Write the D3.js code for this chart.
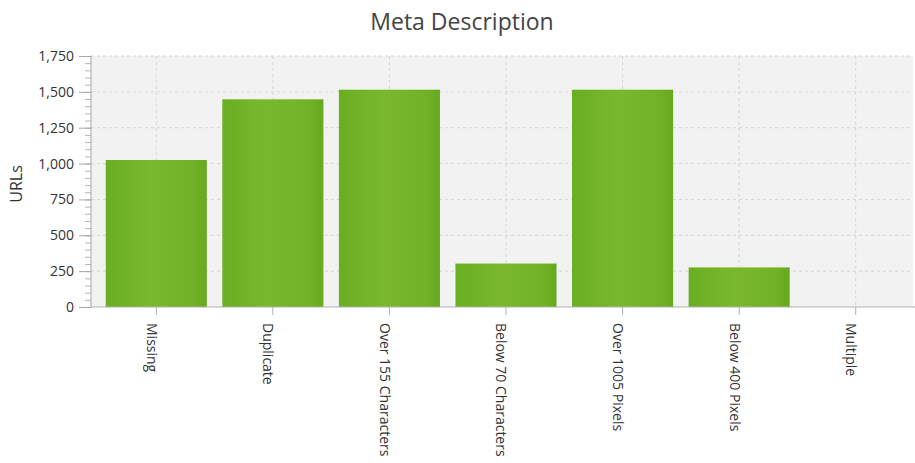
<!DOCTYPE html>
<html>
<head>
<meta charset="utf-8">
<script src="https://cdn.jsdelivr.net/npm/d3@7"></script>
<style>
  body { margin: 0; background: #fff; }
  text { font-family: "Open Sans", "Noto Sans", sans-serif; }
</style>
</head>
<body>
<div id="chart"></div>
<script>
var categories = ["Missing", "Duplicate", "Over 155 Characters", "Below 70 Characters",
                  "Over 1005 Pixels", "Below 400 Pixels", "Multiple"];
var urls = [1025, 1448, 1515, 303, 1515, 276, 0];
var yTicks = [0, 250, 500, 750, 1000, 1250, 1500, 1750];

var width = 915, height = 463;
var plotLeft = 91, plotRight = 913, plotTop = 56, plotBottom = 307;

var svg = d3.select("#chart")
    .append("svg")
    .attr("width", width)
    .attr("height", height);

var x = d3.scaleBand()
    .domain(categories)
    .range([98, 914])
    .paddingInner(0.133)
    .paddingOuter(0.0665);

var y = d3.scaleLinear()
    .domain([0, 1750])
    .range([plotBottom, plotTop]);

// bar gradient
var grad = svg.append("defs").append("linearGradient")
    .attr("id", "barGrad")
    .attr("x1", "0%").attr("x2", "100%").attr("y1", "0%").attr("y2", "0%");
grad.append("stop").attr("offset", "0%").attr("stop-color", "#6aae22");
grad.append("stop").attr("offset", "45%").attr("stop-color", "#79b82c");
grad.append("stop").attr("offset", "85%").attr("stop-color", "#72b226");
grad.append("stop").attr("offset", "100%").attr("stop-color", "#66a91e");

// plot background
svg.append("rect")
    .attr("x", plotLeft)
    .attr("y", plotTop)
    .attr("width", plotRight - plotLeft)
    .attr("height", plotBottom - plotTop)
    .attr("fill", "#f2f2f2");

// grid lines
svg.append("g").selectAll("line")
    .data(yTicks.slice(1))
    .enter().append("line")
    .attr("x1", plotLeft).attr("x2", plotRight)
    .attr("y1", function(d) { return y(d); })
    .attr("y2", function(d) { return y(d); })
    .attr("stroke", "#d6d6d6")
    .attr("stroke-dasharray", "3,3");

svg.append("g").selectAll("line")
    .data(categories)
    .enter().append("line")
    .attr("x1", function(d) { return x(d) + x.bandwidth() / 2; })
    .attr("x2", function(d) { return x(d) + x.bandwidth() / 2; })
    .attr("y1", plotTop).attr("y2", plotBottom)
    .attr("stroke", "#d6d6d6")
    .attr("stroke-dasharray", "3,3");

// bars
svg.append("g").selectAll("rect")
    .data(categories)
    .enter().append("rect")
    .attr("x", function(d) { return x(d); })
    .attr("width", x.bandwidth())
    .attr("y", function(d, i) { return y(urls[i]); })
    .attr("height", function(d, i) { return plotBottom - y(urls[i]); })
    .attr("fill", "url(#barGrad)");

// y axis with minor ticks
var yMinor = svg.append("g")
    .attr("transform", "translate(" + plotLeft + ",0)")
    .call(d3.axisLeft(y).ticks(35).tickSize(6).tickFormat(""));
yMinor.select(".domain").remove();
yMinor.selectAll("line").attr("stroke", "#b5b5b5");

var yAxis = svg.append("g")
    .attr("transform", "translate(" + plotLeft + ",0)")
    .call(d3.axisLeft(y).tickValues(yTicks).tickSize(12).tickPadding(5)
        .tickFormat(d3.format(",")));
yAxis.select(".domain").attr("stroke", "#a8a8a8").attr("d", "M0," + plotTop + "V" + plotBottom);
yAxis.selectAll("line").attr("stroke", "#a8a8a8");
yAxis.selectAll("text")
    .attr("font-size", 14)
    .attr("fill", "#333");

// x axis
var xAxis = svg.append("g")
    .attr("transform", "translate(0," + plotBottom + ")")
    .call(d3.axisBottom(x).tickSize(8).tickSizeOuter(0));
xAxis.select(".domain").attr("stroke", "#b0b0b0").attr("d", "M" + plotLeft + ",0H" + width);
xAxis.selectAll("line").attr("stroke", "#b0b0b0");
xAxis.selectAll("text")
    .attr("font-size", 14)
    .attr("fill", "#333")
    .attr("text-anchor", "start")
    .attr("transform", "rotate(90)")
    .attr("x", 16)
    .attr("y", 0)
    .attr("dy", "0.68em");

// title
svg.append("text")
    .attr("x", 462)
    .attr("y", 30)
    .attr("text-anchor", "middle")
    .attr("font-size", 23)
    .attr("fill", "#444")
    .text("Meta Description");

// y label
svg.append("text")
    .attr("transform", "translate(22,184) rotate(-90)")
    .attr("text-anchor", "middle")
    .attr("font-size", 16)
    .attr("fill", "#333")
    .text("URLs");
</script>
</body>
</html>
